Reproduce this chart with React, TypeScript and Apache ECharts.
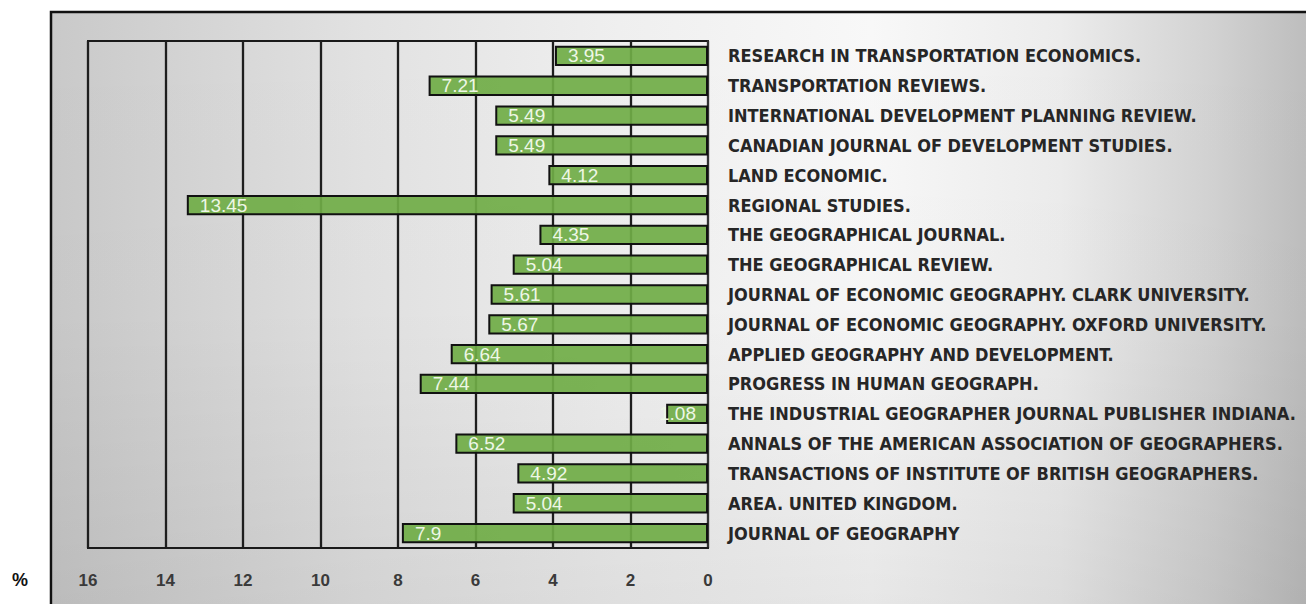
import React, { useEffect, useRef } from "react";
import * as echarts from "echarts";

const categories: string[] = [
  "RESEARCH IN TRANSPORTATION ECONOMICS.",
  "TRANSPORTATION REVIEWS.",
  "INTERNATIONAL DEVELOPMENT PLANNING REVIEW.",
  "CANADIAN JOURNAL OF DEVELOPMENT STUDIES.",
  "LAND ECONOMIC.",
  "REGIONAL STUDIES.",
  "THE GEOGRAPHICAL JOURNAL.",
  "THE GEOGRAPHICAL REVIEW.",
  "JOURNAL OF ECONOMIC GEOGRAPHY. CLARK UNIVERSITY.",
  "JOURNAL OF ECONOMIC GEOGRAPHY. OXFORD UNIVERSITY.",
  "APPLIED GEOGRAPHY AND DEVELOPMENT.",
  "PROGRESS IN HUMAN GEOGRAPH.",
  "THE INDUSTRIAL GEOGRAPHER JOURNAL PUBLISHER INDIANA.",
  "ANNALS OF THE AMERICAN ASSOCIATION OF GEOGRAPHERS.",
  "TRANSACTIONS OF INSTITUTE OF BRITISH GEOGRAPHERS.",
  "AREA. UNITED KINGDOM.",
  "JOURNAL OF GEOGRAPHY",
];

const values: number[] = [
  3.95, 7.21, 5.49, 5.49, 4.12, 13.45, 4.35, 5.04, 5.61, 5.67, 6.64, 7.44, 1.08,
  6.52, 4.92, 5.04, 7.9,
];

const axisMin = 0;
const axisMax = 16;
const axisInterval = 2;
const unitLabel = "%";

export default function App() {
  const ref = useRef<HTMLDivElement>(null);

  useEffect(() => {
    if (!ref.current) return;
    const chart = echarts.init(ref.current, null, { renderer: "svg" });

    const seriesData = values.map((v) => ({
      value: v,
      label: v < 2 ? { position: "insideRight", distance: 12 } : undefined,
    }));

    chart.setOption({
      animation: false,
      backgroundColor: "#ffffff",
      graphic: {
        elements: [
          {
            type: "rect",
            z: -10,
            silent: true,
            shape: { x: 51, y: 12, width: 1262, height: 600 },
            style: {
              fill: {
                type: "linear",
                x: 0,
                y: 0,
                x2: 1,
                y2: 0,
                colorStops: [
                  { offset: 0, color: "#c9c9c9" },
                  { offset: 0.1, color: "#d3d3d3" },
                  { offset: 0.25, color: "#e2e2e2" },
                  { offset: 0.45, color: "#efefef" },
                  { offset: 0.65, color: "#f8f8f8" },
                  { offset: 0.8, color: "#ececec" },
                  { offset: 0.92, color: "#d2d2d2" },
                  { offset: 1, color: "#bcbcbc" },
                ],
              },
              stroke: "#111111",
              lineWidth: 2.5,
            },
          },
          {
            type: "rect",
            z: -9,
            silent: true,
            shape: { x: 53, y: 14, width: 1260, height: 596 },
            style: {
              fill: {
                type: "linear",
                x: 0,
                y: 0,
                x2: 0,
                y2: 1,
                colorStops: [
                  { offset: 0, color: "rgba(0,0,0,0)" },
                  { offset: 0.5, color: "rgba(0,0,0,0.01)" },
                  { offset: 1, color: "rgba(0,0,0,0.07)" },
                ],
              },
            },
          },
          {
            type: "text",
            silent: true,
            x: 20,
            y: 580,
            style: {
              text: unitLabel,
              fill: "#111111",
              font: "bold 18px 'Liberation Sans', Arial, sans-serif",
              align: "center",
              verticalAlign: "middle",
            },
          },
        ],
      },
      grid: {
        left: 88,
        top: 41,
        width: 620,
        height: 507,
        outerBoundsMode: "none",
        containLabel: false,
        show: true,
        borderColor: "#1a1a1a",
        borderWidth: 2,
        backgroundColor: "transparent",
      },
      xAxis: {
        type: "value",
        inverse: true,
        min: axisMin,
        max: axisMax,
        interval: axisInterval,
        axisLine: { show: true, lineStyle: { color: "#1a1a1a", width: 2 } },
        axisTick: { show: false },
        splitLine: { show: true, lineStyle: { color: "#1e1e1e", width: 2.3 } },
        axisLabel: {
          margin: 24,
          color: "#3a3a3a",
          fontSize: 17,
          fontWeight: "bold",
          fontFamily: "'Liberation Sans', Arial, sans-serif",
        },
      },
      yAxis: {
        type: "category",
        position: "right",
        inverse: true,
        data: categories,
        axisLine: { show: true, lineStyle: { color: "#333333", width: 2 } },
        axisTick: { show: false },
        splitLine: { show: false },
        axisLabel: {
          margin: 20,
          align: "left",
          color: "#262626",
          fontSize: 18,
          fontWeight: "bold",
          fontFamily: "'DejaVu Sans Condensed', 'Liberation Sans Narrow', sans-serif",
        },
      },
      series: [
        {
          type: "bar",
          data: seriesData,
          barCategoryGap: "32%",
          itemStyle: {
            color: "rgba(112,173,71,0.92)",
            borderColor: "#111111",
            borderWidth: 2,
          },
          label: {
            show: true,
            position: "insideLeft",
            distance: 13,
            color: "#eef7e6",
            fontSize: 19,
            fontFamily: "'Liberation Sans', Arial, sans-serif",
          },
        },
      ],
    });

    return () => chart.dispose();
  }, []);

  return (
    <div
      ref={ref}
      style={{ position: "absolute", left: 0, top: 0, width: 1306, height: 604 }}
    />
  );
}
